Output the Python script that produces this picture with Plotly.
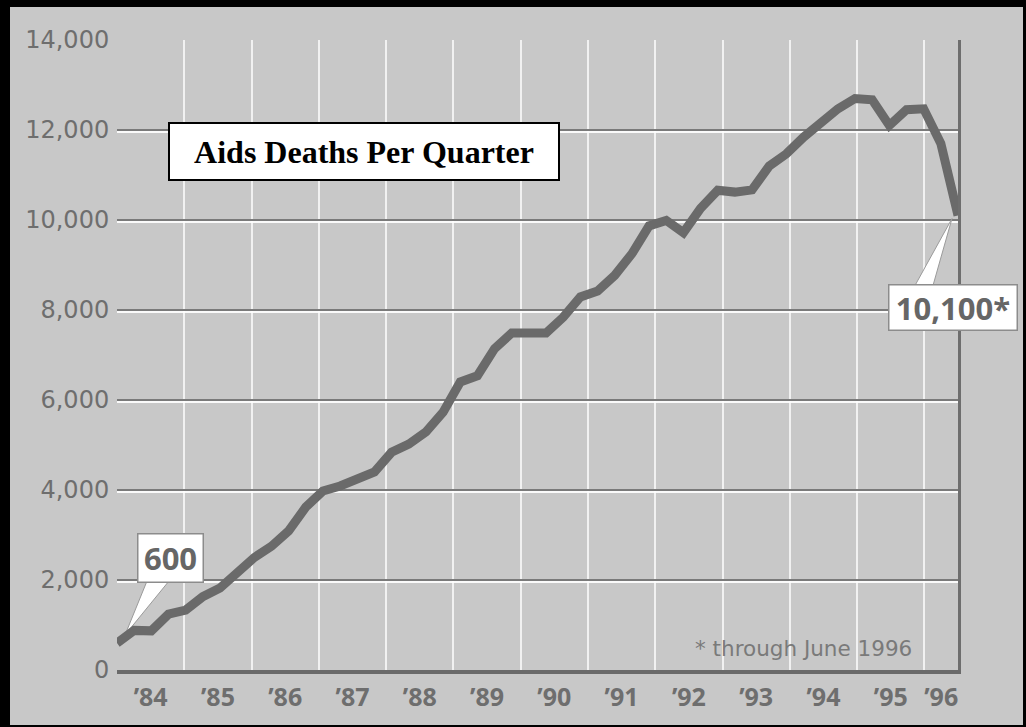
import numpy as np
import plotly.graph_objects as go

# ---- data ----
QUARTERS = [f"{y} Q{q}" for y in range(1984, 1997) for q in range(1, 5)][:50]
DEATHS = [600, 880, 870, 1240, 1330, 1630, 1820, 2190, 2500, 2750,
          3090, 3620, 3980, 4090, 4230, 4400, 4840, 5020, 5290, 5730,
          6400, 6540, 7140, 7490, 7490, 7490, 7840, 8290, 8420, 8770,
          9250, 9870, 9990, 9720, 10260, 10660, 10620, 10670, 11200, 11470,
          11840, 12160, 12470, 12700, 12670, 12100, 12450, 12470, 11700, 10100]
YEAR_LABELS = ["’84", "’85", "’86", "’87", "’88", "’89", "’90",
               "’91", "’92", "’93", "’94", "’95", "’96"]
Y_TICKS = [0, 2000, 4000, 6000, 8000, 10000, 12000, 14000]
Y_TICK_TEXT = ["0", "2,000", "4,000", "6,000", "8,000", "10,000", "12,000", "14,000"]
TITLE = "Aids Deaths Per Quarter"
FOOTNOTE = "* through June 1996"

# x positions: quarters spread over Jan 1984 .. mid 1996
X0, X1 = 1984.0, 1996.5
xs = np.linspace(X0, X1, len(DEATHS))
year_mid = [1984.5 + i for i in range(12)] + [1996.25]
year_edges = list(range(1984, 1997))

W, H = 1026, 727
ML, MR, MT, MB = 117, 68, 40, 57
PW, PH = W - ML - MR, H - MT - MB
YMAX = 14000

def px(x):
    return (x - ML) / PW

def py(y):
    return (H - MB - y) / PH

def off(x, y, dxp, dyp):
    """shift a data point by screen pixels (dyp positive = down)"""
    return x + dxp * (X1 - X0) / PW, y - dyp * YMAX / PH

BG = "#c8c8c8"
LINE = "#6a6a6a"
LABEL = "#6e6e6e"

fig = go.Figure()
fig.add_trace(go.Scatter(x=xs, y=DEATHS, mode="lines",
                         line=dict(color=LINE, width=9, shape="linear"),
                         hoverinfo="skip", showlegend=False))
# invisible traces to activate overlay axes
fig.add_trace(go.Scatter(x=xs, y=DEATHS, yaxis="y2", mode="lines",
                         line=dict(width=0), opacity=0, hoverinfo="skip", showlegend=False))
fig.add_trace(go.Scatter(x=xs, y=DEATHS, yaxis="y3", mode="lines",
                         line=dict(width=0), opacity=0, hoverinfo="skip", showlegend=False))

fig.update_layout(
    width=W, height=H,
    margin=dict(l=ML, r=MR, t=MT, b=MB, autoexpand=False),
    paper_bgcolor=BG, plot_bgcolor=BG,
    showlegend=False,
    xaxis=dict(range=[X0, X1], tickmode="array", tickvals=year_mid,
               ticktext=YEAR_LABELS, showgrid=False, zeroline=False, automargin=False,
               ticks="outside", ticklen=2, tickcolor="rgba(0,0,0,0)",
               tickfont=dict(family="Open Sans", size=25, color=LABEL, weight="bold"),
               showline=True, linecolor="#6a6a6a", linewidth=4,
               minor=dict(tickmode="array", tickvals=year_edges, showgrid=True,
                          gridcolor="rgba(255,255,255,0.75)", gridwidth=1.5,
                          ticks="")),
    yaxis=dict(range=[0, YMAX], tickmode="array", tickvals=Y_TICKS,
               ticktext=Y_TICK_TEXT, showgrid=True, gridcolor="#7a7a7a", gridwidth=2,
               zeroline=False, automargin=False, ticks="outside", ticklen=2,
               tickcolor="rgba(0,0,0,0)",
               tickfont=dict(family="DejaVu Sans", size=24, color=LABEL)),
    yaxis2=dict(range=[0, YMAX], overlaying="y", side="right", showgrid=False,
                showticklabels=False, zeroline=False, showline=True, automargin=False,
                linecolor="#6e6e6e", linewidth=2.5),
    yaxis3=dict(range=[45, YMAX + 45], overlaying="y", side="left", showgrid=True,
                gridcolor="rgba(255,255,255,0.9)", gridwidth=2, tickmode="array",
                tickvals=Y_TICKS[1:-1], showticklabels=False, zeroline=False,
                showline=False, automargin=False),
)

# title box
fig.add_annotation(xref="paper", yref="paper", x=px(364), y=py(151.5),
                   text=f"<b>{TITLE}</b>", showarrow=False,
                   font=dict(family="Liberation Serif", size=32, color="black"),
                   bgcolor="white", bordercolor="black", borderwidth=2,
                   width=386, height=53, borderpad=1,
                   xanchor="center", yanchor="middle")

# callout wedges (white tails)
def wedge(x, y, tip, b1, b2):
    t = off(x, y, *tip)
    p1 = off(x, y, *b1)
    p2 = off(x, y, *b2)
    return f"M {t[0]},{t[1]} L {p1[0]},{p1[1]} L {p2[0]},{p2[1]} Z"

fig.add_shape(type="path", path=wedge(xs[0], DEATHS[0], (8, -8), (30, -62), (52, -62)),
              fillcolor="white", line=dict(color="#9a9a9a", width=1), layer="between")
fig.add_shape(type="path", path=wedge(xs[-1], DEATHS[-1], (-6, 3), (-43, 70), (-25, 70)),
              fillcolor="white", line=dict(color="#9a9a9a", width=1), layer="between")

# callouts
fig.add_annotation(x=xs[0], y=DEATHS[0], ax=53, ay=-85, text=f"<b>{DEATHS[0]:,}</b>",
                   font=dict(family="Open Sans", size=31, color="#666666"),
                   bgcolor="white", bordercolor="#8c8c8c", borderwidth=1.5,
                   width=62, height=45, borderpad=1,
                   showarrow=True, arrowcolor="rgba(0,0,0,0)", arrowwidth=0.1)
fig.add_annotation(x=xs[-1], y=DEATHS[-1], ax=-5, ay=92, text=f"<b>{DEATHS[-1]:,}*</b>",
                   font=dict(family="Open Sans", size=31, color="#666666"),
                   bgcolor="white", bordercolor="#8c8c8c", borderwidth=1.5,
                   width=125, height=42, borderpad=1,
                   showarrow=True, arrowcolor="rgba(0,0,0,0)", arrowwidth=0.1)

# footnote
fig.add_annotation(xref="paper", yref="paper", x=px(914), y=py(648),
                   text=FOOTNOTE, showarrow=False,
                   font=dict(family="DejaVu Sans", size=21.5, color="#7a7a7a"),
                   xanchor="right", yanchor="middle")

# black scan border
for (x0, y0, x1, y1) in [(0, 0, 10, H), (0, 0, W, 7), (W - 3, 0, W, H), (0, H - 2, W, H)]:
    fig.add_shape(type="rect", xref="paper", yref="paper",
                  x0=px(x0), x1=px(x1), y0=py(y1), y1=py(y0),
                  fillcolor="black", line=dict(width=0), layer="above")

fig.write_html("out.html",
               config={"displayModeBar": False},
               post_script="document.body.style.margin='0px';"
                           "document.body.style.overflow='hidden';")
